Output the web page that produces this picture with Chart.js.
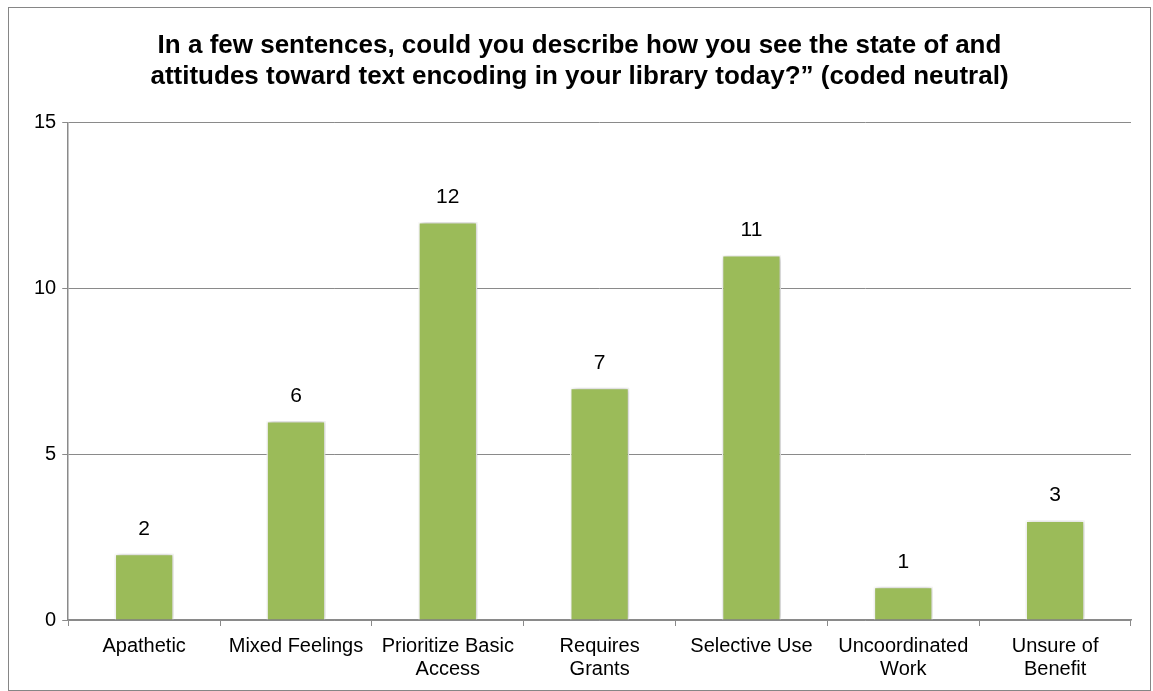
<!DOCTYPE html>
<html>
<head>
<meta charset="utf-8">
<script src="https://cdn.jsdelivr.net/npm/chart.js@4.4.0/dist/chart.umd.min.js"></script>
<style>
  html, body { margin: 0; padding: 0; background: #fff; }
  #wrap { position: absolute; left: 8px; top: 7px; width: 1143px; height: 684px; border: 1px solid #868686; box-sizing: border-box; }
</style>
</head>
<body>
<div id="wrap"><canvas id="myChart"></canvas></div>
<script>
// ----- données -----
const categories = [
  'Apathetic',
  'Mixed Feelings',
  ['Prioritize Basic', 'Access'],
  ['Requires', 'Grants'],
  'Selective Use',
  ['Uncoordinated', 'Work'],
  ['Unsure of', 'Benefit']
];
const counts = [2, 6, 12, 7, 11, 1, 3];
const yTicks = [0, 5, 10, 15];
const titleLines = [
  'In a few sentences, could you describe how you see the state of and',
  'attitudes toward text encoding in your library today?\u201d (coded neutral)'
];

const FONT = "'Liberation Sans', Arial, sans-serif";
const GRIS = '#8a8a8a';

// ombre sous les barres
const ombre = {
  id: 'ombre',
  beforeDatasetsDraw(chart) {
    const ctx = chart.ctx;
    ctx.save();
    ctx.shadowColor = 'rgba(0,0,0,0.28)';
    ctx.shadowBlur = 5;
    ctx.shadowOffsetX = 1;
    ctx.shadowOffsetY = 0;
  },
  afterDatasetsDraw(chart) {
    chart.ctx.restore();
  }
};

// étiquettes de valeurs au-dessus des barres
const etiquettes = {
  id: 'etiquettes',
  afterDatasetsDraw(chart) {
    const ctx = chart.ctx;
    const meta = chart.getDatasetMeta(0);
    ctx.save();
    ctx.fillStyle = '#000';
    ctx.font = '21px ' + FONT;
    ctx.textAlign = 'center';
    ctx.textBaseline = 'alphabetic';
    meta.data.forEach((bar, i) => {
      ctx.fillText(String(counts[i]), bar.x, bar.y - 19);
    });
    ctx.restore();
  }
};

const data = {
  labels: categories,
  datasets: [{
    data: counts,
    backgroundColor: '#9bbb59',
    borderColor: '#ffffff',
    borderWidth: 1.5,
    barPercentage: 0.39,
    categoryPercentage: 1
  }]
};

const config = {
  type: 'bar',
  data,
  plugins: [ombre, etiquettes],
  options: {
    responsive: true,
    maintainAspectRatio: false,
    animation: false,
    layout: { padding: { left: 19, right: 19, top: 0, bottom: 0 } },
    scales: {
      y: {
        min: 0,
        max: 15,
        afterBuildTicks(axis) { axis.ticks = yTicks.map(v => ({ value: v })); },
        ticks: { color: '#000', font: { family: FONT, size: 20 }, padding: 6 },
        grid: { color: GRIS, lineWidth: 1, tickLength: 6, drawTicks: true },
        border: { color: GRIS, width: 1.5 }
      },
      x: {
        offset: true,
        ticks: { color: '#000', font: { family: FONT, size: 20, lineHeight: 1.15 }, maxRotation: 0, autoSkip: false, padding: 9 },
        grid: { offset: true, drawOnChartArea: false, color: GRIS, tickLength: 6 },
        border: { color: GRIS, width: 1.5 }
      }
    },
    plugins: {
      legend: { display: false },
      tooltip: { enabled: false },
      title: {
        display: true,
        text: titleLines,
        color: '#000',
        font: { family: FONT, size: 26, weight: 'bold', lineHeight: 1.2 },
        padding: { top: 22, bottom: 30 }
      }
    }
  }
};

const myChart = new Chart(document.getElementById('myChart').getContext('2d'), config);
</script>
</body>
</html>
